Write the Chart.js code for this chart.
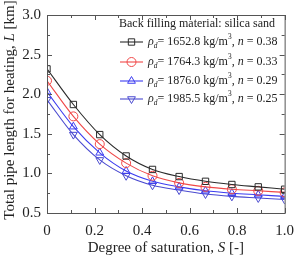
<!DOCTYPE html>
<html>
<head>
<meta charset="utf-8">
<script src="https://cdn.jsdelivr.net/npm/chart.js@4"></script>
<style>
  html, body { margin: 0; padding: 0; background: #fff; }
  #wrap { width: 303px; height: 258px; }
</style>
</head>
<body>
<div id="wrap"><canvas id="c" width="303" height="258"></canvas></div>
<script>
// 飽和度 S
const saturation = [0, 0.111, 0.222, 0.333, 0.444, 0.556, 0.667, 0.778, 0.889, 1.0];
// 各乾燥密度ごとの必要配管長 [km]
const L1652 = [2.32, 1.87, 1.49, 1.22, 1.05, 0.96, 0.90, 0.86, 0.83, 0.80];
const L1764 = [2.17, 1.72, 1.37, 1.13, 0.97, 0.88, 0.83, 0.80, 0.78, 0.76];
const L1876 = [2.03, 1.59, 1.26, 1.03, 0.90, 0.83, 0.78, 0.75, 0.73, 0.71];
const L1985 = [1.93, 1.49, 1.17, 0.97, 0.85, 0.79, 0.74, 0.71, 0.69, 0.67];
const rhoLabels = ['1652.8', '1764.3', '1876.0', '1985.5'];
const nLabels = ['0.38', '0.33', '0.29', '0.25'];
const xTicks = [0, 0.2, 0.4, 0.6, 0.8, 1.0];
const yTicks = [0.5, 1.0, 1.5, 2.0, 2.5, 3.0];

const colors = ['#2b2b2b', '#f04848', '#3c3cf0', '#4a4ad0'];
const markers = ['rect', 'circle', 'triangle', 'triangle'];
const rotations = [0, 0, 0, 180];
const series = [L1652, L1764, L1876, L1985];

const FONT = '"Liberation Serif", "DejaVu Serif", serif';

// 書式付きテキストを描画する（斜体・下付き・上付き）
function drawRich(ctx, parts, x, y, size) {
    let cx = x;
    parts.forEach(p => {
        let fs = size, dy = 0;
        if (p.s === 'sub') { fs = size * 0.62; dy = size * 0.3; }
        if (p.s === 'sup') { fs = size * 0.62; dy = -size * 0.38; }
        ctx.font = (p.i ? 'italic ' : '') + fs + 'px ' + FONT;
        ctx.fillText(p.t, cx, y + dy);
        cx += ctx.measureText(p.t).width;
    });
    return cx;
}

function richWidth(ctx, parts, size) {
    let w = 0;
    parts.forEach(p => {
        const fs = p.s ? size * 0.62 : size;
        ctx.font = (p.i ? 'italic ' : '') + fs + 'px ' + FONT;
        w += ctx.measureText(p.t).width;
    });
    return w;
}

const datasets = series.map((d, i) => ({
    data: d.map((v, k) => ({ x: saturation[k], y: v })),
    borderColor: colors[i],
    borderWidth: 1.1,
    pointStyle: markers[i],
    pointRotation: rotations[i],
    pointRadius: 4.5,
    pointBorderWidth: 1,
    pointBackgroundColor: 'rgba(0,0,0,0)',
    pointBorderColor: colors[i],
    cubicInterpolationMode: 'monotone'
}));

// 目盛り・軸タイトル・凡例を描くプラグイン
const decor = {
    id: 'decor',
    afterDraw(chart) {
        const ctx = chart.ctx;
        const a = chart.chartArea;
        const xs = chart.scales.x, ys = chart.scales.y;
        ctx.save();
        ctx.strokeStyle = '#555';
        ctx.lineWidth = 1;
        ctx.beginPath();
        // 内向きの目盛り（主・副）
        for (let v = 0; v <= 1.0001; v += 0.1) {
            const px = Math.round(xs.getPixelForValue(v)) + 0.5;
            const major = Math.abs(v * 5 - Math.round(v * 5)) < 1e-6;
            const len = major ? 5 : 3;
            ctx.moveTo(px, a.bottom); ctx.lineTo(px, a.bottom - len);
            ctx.moveTo(px, a.top); ctx.lineTo(px, a.top + len);
        }
        for (let v = 0.5; v <= 3.0001; v += 0.25) {
            const py = Math.round(ys.getPixelForValue(v)) + 0.5;
            const major = Math.abs(v * 2 - Math.round(v * 2)) < 1e-6;
            const len = major ? 5 : 3;
            ctx.moveTo(a.left, py); ctx.lineTo(a.left + len, py);
            ctx.moveTo(a.right, py); ctx.lineTo(a.right - len, py);
        }
        ctx.stroke();
        ctx.strokeRect(a.left + 0.5, a.top + 0.5, a.right - a.left, a.bottom - a.top);

        ctx.fillStyle = '#222';
        ctx.textBaseline = 'middle';
        ctx.textAlign = 'left';

        // X軸タイトル
        const xt = [{ t: 'Degree of saturation, ' }, { t: 'S', i: true }, { t: ' [-]' }];
        let w = richWidth(ctx, xt, 15);
        drawRich(ctx, xt, (a.left + a.right) / 2 - w / 2, 248, 15);

        // Y軸タイトル
        const yt = [{ t: 'Total pipe length for heating, ' }, { t: 'L', i: true }, { t: ' [km]' }];
        w = richWidth(ctx, yt, 15);
        ctx.save();
        ctx.translate(10, 110);
        ctx.rotate(-Math.PI / 2);
        drawRich(ctx, yt, -w / 2, 0, 15);
        ctx.restore();

        // 凡例
        drawRich(ctx, [{ t: 'Back filling material: silica sand' }], 119, 24, 12);
        const rows = [42, 62, 81, 99];
        rows.forEach((ry, i) => {
            ctx.strokeStyle = colors[i];
            ctx.lineWidth = 1.1;
            ctx.beginPath();
            ctx.moveTo(120, ry); ctx.lineTo(143, ry);
            ctx.stroke();
            ctx.lineWidth = 1;
            ctx.fillStyle = 'rgba(0,0,0,0)';
            Chart.helpers.drawPoint(ctx, {
                pointStyle: markers[i], rotation: rotations[i], radius: 4.5, borderWidth: 1
            }, 131.5, ry);
            ctx.fillStyle = '#222';
            drawRich(ctx, [
                { t: 'ρ', i: true }, { t: 'd', i: true, s: 'sub' },
                { t: '= ' + rhoLabels[i] + ' kg/m' }, { t: '3', s: 'sup' },
                { t: ', ' }, { t: 'n', i: true }, { t: ' = ' + nLabels[i] }
            ], 148, ry, 12);
        });
        ctx.restore();
    }
};

new Chart(document.getElementById('c'), {
    type: 'line',
    data: { datasets: datasets },
    options: {
        responsive: false,
        animation: false,
        devicePixelRatio: 1,
        layout: { padding: { top: 11, right: 13, left: 0, bottom: 0 } },
        plugins: { legend: { display: false }, tooltip: { enabled: false } },
        scales: {
            x: {
                type: 'linear', min: 0, max: 1.0,
                afterFit(s) { s.height = 45; },
                afterBuildTicks(s) { s.ticks = xTicks.map(v => ({ value: v })); },
                grid: { display: false, drawTicks: false },
                border: { display: false },
                ticks: {
                    padding: 9,
                    color: '#222',
                    font: { family: FONT, size: 15 },
                    callback: v => v === 0 ? '0' : v.toFixed(1)
                }
            },
            y: {
                type: 'linear', min: 0.5, max: 3.0,
                afterFit(s) { s.width = 47; },
                afterBuildTicks(s) { s.ticks = yTicks.map(v => ({ value: v })); },
                grid: { display: false, drawTicks: false },
                border: { display: false },
                ticks: {
                    padding: 6,
                    color: '#222',
                    font: { family: FONT, size: 15 },
                    callback: v => v.toFixed(1)
                }
            }
        }
    },
    plugins: [decor]
});
</script>
</body>
</html>
